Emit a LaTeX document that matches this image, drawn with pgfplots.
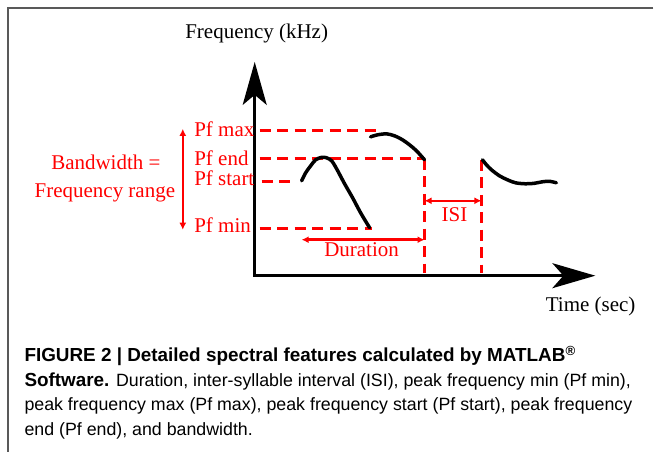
\documentclass[border=0pt]{standalone}
\usepackage{fontspec}
\setmainfont{Liberation Serif}
\newfontfamily\capfont{Liberation Sans}
\usepackage{pgfplots}
\pgfplotsset{compat=1.18}
\usetikzlibrary{arrows.meta}
\begin{document}
\begin{tikzpicture}
\begin{axis}[scale only axis, width=654pt, height=453pt,
  xmin=0, xmax=654, ymin=0, ymax=453, y dir=reverse,
  hide axis, clip=false]
% bounding box
\addplot[draw=none] coordinates {(0,0) (654,453)};
% frame
\addplot[color=black!65, line width=1.5pt] coordinates {(654,8) (8,8) (8,453)};
% dashed guide lines
\addplot[red, line width=3pt, dash pattern=on 11pt off 6.5pt] coordinates {(260,131) (377,131)};
\addplot[red, line width=3pt, dash pattern=on 11pt off 6.5pt] coordinates {(260,159) (425,159)};
\addplot[red, line width=3pt, dash pattern=on 11pt off 6.5pt] coordinates {(262,182) (297,182)};
\addplot[red, line width=3pt, dash pattern=on 11pt off 6.5pt] coordinates {(260,229) (372,229)};
\addplot[red, line width=3pt, dash pattern=on 11pt off 6.5pt] coordinates {(425,159) (425,273)};
\addplot[red, line width=3pt, dash pattern=on 11pt off 6.5pt] coordinates {(482,160) (482,273)};
% axes
\addplot[black, line width=2.5pt, -{Stealth[length=43pt,width=24pt,inset=10pt]}] coordinates {(255,277) (255,62)};
\addplot[black, line width=2.5pt, -{Stealth[length=43pt,width=25pt,inset=11pt]}] coordinates {(254,276) (596,276)};
% syllable contours
\addplot[black, line width=3.5pt, smooth, line cap=round] coordinates {
(302,181) (306,173) (311,166) (316,160) (322,157.5) (327,158) (332,161) (337,169) (345,184) (353,198) (361,213) (370,228)};
\addplot[black, line width=3.5pt, smooth, line cap=round] coordinates {
(371,137) (378,135) (387,134) (395,136) (403,140) (410,145) (417,151) (425,160)};
\addplot[black, line width=3.5pt, smooth, line cap=round] coordinates {
(483,160) (487,165) (492,170) (500,176) (508,180) (516,183) (526,184) (535,183.5) (543,182) (550,181.5) (557,183)};
% red measurement arrows
\addplot[red, line width=2.5pt, {Latex[length=7pt,width=7pt]}-{Latex[length=7pt,width=7pt]}] coordinates {(183,129) (183,230)};
\addplot[red, line width=2.5pt, {Latex[length=7pt,width=7pt]}-{Latex[length=7pt,width=7pt]}] coordinates {(302,240) (425,240)};
\addplot[red, line width=2.5pt, {Latex[length=7pt,width=7pt]}-{Latex[length=7pt,width=7pt]}] coordinates {(425,201) (482,201)};
% labels
\node[anchor=base west, font=\fontsize{21}{25}\selectfont] at (axis cs:182,39) {Frequency (kHz)};
\node[anchor=base west, font=\fontsize{21}{25}\selectfont] at (axis cs:543,312) {Time (sec)};
\node[red, anchor=base west, font=\fontsize{21}{25}\selectfont] at (axis cs:191,137) {Pf max};
\node[red, anchor=base west, font=\fontsize{21}{25}\selectfont] at (axis cs:191,166) {Pf end};
\node[red, anchor=base west, font=\fontsize{21}{25}\selectfont] at (axis cs:191,186) {Pf start};
\node[red, anchor=base west, font=\fontsize{21}{25}\selectfont] at (axis cs:191,233) {Pf min};
\node[red, anchor=base, font=\fontsize{21}{25}\selectfont] at (axis cs:106,170) {Bandwidth =};
\node[red, anchor=base, font=\fontsize{21}{25}\selectfont] at (axis cs:105,198) {Frequency range};
\node[red, anchor=base, font=\fontsize{21}{25}\selectfont] at (axis cs:362,257) {Duration};
\node[red, anchor=base, font=\fontsize{21}{25}\selectfont] at (axis cs:455,222) {ISI};
% caption
\node[anchor=base west, font=\capfont\fontsize{18.9}{20}\selectfont\bfseries] at (axis cs:21,362) {FIGURE 2 | Detailed spectral features calculated by MATLAB\textsuperscript{®}};
\node[anchor=base west, font=\capfont\fontsize{17.8}{20}\selectfont] at (axis cs:21,387) {{\fontsize{18.9}{20}\selectfont\bfseries Software.} Duration, inter-syllable interval (ISI), peak frequency min (Pf min),};
\node[anchor=base west, font=\capfont\fontsize{17.8}{20}\selectfont] at (axis cs:21,411) {peak frequency max (Pf max), peak frequency start (Pf start), peak frequency};
\node[anchor=base west, font=\capfont\fontsize{17.8}{20}\selectfont] at (axis cs:21,436) {end (Pf end), and bandwidth.};
\end{axis}
\end{tikzpicture}
\end{document}
